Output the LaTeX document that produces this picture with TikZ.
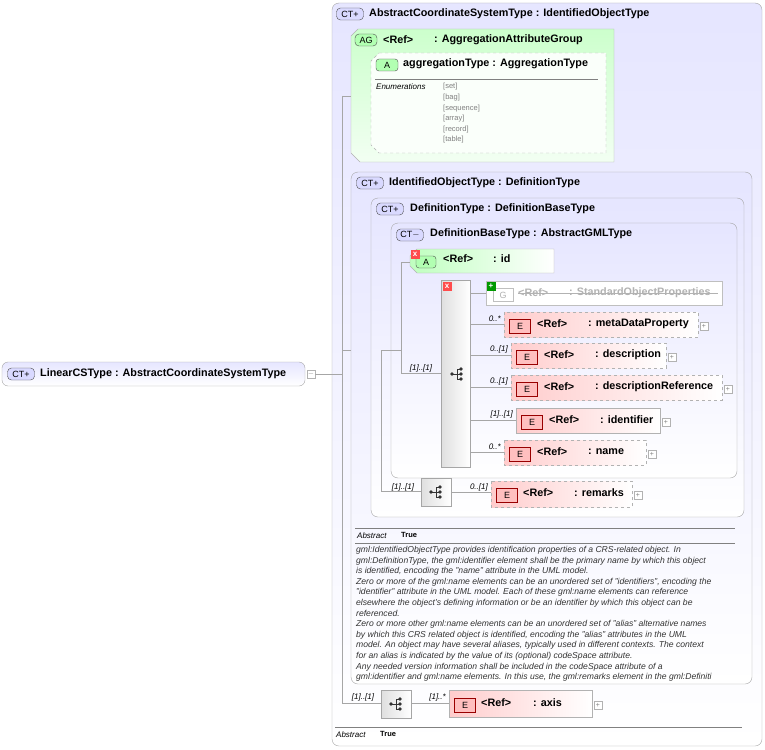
\documentclass[tikz,border=0pt]{standalone}
\usepackage{fontspec}
\setmainfont{Liberation Sans}
\newcommand\seqicon[1]{%
 \begin{scope}[shift={(#1)}]
  \fill[black!80] (-5,0) circle (1.8);
  \draw[black!80] (-5,0) -- (0,0) (0,-5) -- (0,5) (0,-5) -- (4,-5) (0,5) -- (4,5) (0,0) -- (4,0);
  \fill[black!80] (4,-5) circle (1.8) (4,0) circle (1.8) (4,5) circle (1.8);
 \end{scope}}
\begin{document}
\begin{tikzpicture}[x=1pt,y=-1pt,
 ct/.style={draw=gray!70,rounded corners=7pt,top color=blue!10,bottom color=white},
 hdr/.style={anchor=west,font=\bfseries\fontsize{10.8}{12}\selectfont,inner sep=0pt},
 badge/.style={draw=black!70,rounded corners=4pt,fill=blue!15,font=\fontsize{9}{10}\selectfont,inner sep=1pt,minimum height=12pt,minimum width=27pt},
 el/.style={draw=gray!60,left color=red!20,right color=white,inner sep=0pt},
 eld/.style={el,dashed},
 ebadge/.style={draw=red!60!black,fill=red!25,font=\fontsize{9}{10}\selectfont,minimum width=21pt,minimum height=14pt,inner sep=0pt},
 lbl/.style={font=\itshape\fontsize{8}{9}\selectfont,inner sep=0pt},
 ln/.style={draw=gray!70},
 seq/.style={draw=gray!70,left color=gray!25,right color=white,inner sep=0pt},
 pl/.style={draw=gray!60,fill=white,minimum size=8pt,inner sep=0pt,font=\fontsize{7}{7}\selectfont,text=gray},
 xm/.style={fill=red!70,text=white,inner sep=0pt,minimum size=9pt,font=\bfseries\fontsize{8}{8}\selectfont}
]
\useasboundingbox (0,0) rectangle (765,749);
% outer
\draw[ct] (332,3) rectangle (762,746);
\node[badge] (b1) at (350,14) {CT+};
\node[hdr] (h1) at (369,14) {AbstractCoordinateSystemType : IdentifiedObjectType};
% root
\draw[ct,rounded corners=6pt] (2,362) rectangle (305,386);
\node[badge] (b0) at (21,374) {CT+};
\node[hdr] (h0) at (40,374) {LinearCSType : AbstractCoordinateSystemType};
\node[pl] (m0) at (311,374) {$-$};
\draw[ln] (m0.east) -- (342,374);
% main vertical
\draw[ln] (342,96) -- (342,703);
\draw[ln] (342,96) -- (351,96);
\draw[ln] (342,350) -- (381,350);
% AG
\draw[draw=gray!60,top color=green!20,bottom color=green!5] (351,36) -- (358,29) -- (614,29) -- (614,162) -- (360,162) -- (351,153) -- cycle;
\node[badge,fill=green!30,minimum width=22pt] (bag) at (366,40) {AG};
\node[hdr] (hag) at (383,40) {<Ref>};
\node[hdr] (hag2) at (434,40) {: AggregationAttributeGroup};
\draw[draw=gray!60,dashed,fill=white!60!green!5] (379,53) -- (606,53) -- (606,153) -- (379,153) -- (371,145) -- (371,61) -- cycle;
\node[badge,fill=green!30,minimum width=22pt,rounded corners=3pt] (ba) at (387,65) {A};
\node[hdr] (ha) at (403,64) {aggregationType : AggregationType};
\draw[gray] (375,79) -- (598,79);
\node[lbl,anchor=west] (en) at (376,87) {Enumerations};
\foreach \t [count=\i from 0] in {set,bag,sequence,array,record,table}
  \node[font=\fontsize{7.5}{8}\selectfont,text=gray,anchor=west,inner sep=0pt] at (443,87+10.6*\i) {[\t]};
% IdentifiedObjectType
\draw[ct] (351,172) rectangle (752,684);
\node[badge] (b2) at (370,183) {CT+};
\node[hdr] (h2) at (389,183) {IdentifiedObjectType : DefinitionType};
\draw[ct] (371,198) rectangle (744,517);
\node[badge] (b3) at (390,209) {CT+};
\node[hdr] (h3) at (410,209) {DefinitionType : DefinitionBaseType};
\draw[ct] (391,223) rectangle (737,478);
\node[badge] (b4) at (410,235) {CT$-$};
\node[hdr] (h4) at (430,234) {DefinitionBaseType : AbstractGMLType};
% id
\draw[draw=gray!60,left color=green!25,right color=white] (410,256) -- (417,249) -- (554,249) -- (554,273) -- (417,273) -- (410,266) -- cycle;
\node[badge,fill=green!30,minimum width=20pt,rounded corners=3pt] (bid) at (426,262) {A};
\node[hdr] (hid) at (443,259) {<Ref>};
\node[hdr] (hid2) at (493,259) {: id};
\node[xm] at (415,254) {x};
% connectors
\draw[ln] (381,350) -- (381,491) -- (421,491);
\draw[ln] (381,350) -- (401,350);
\draw[ln] (401,262) -- (401,373);
\draw[ln] (401,262) -- (410,262);
\draw[ln] (401,373) -- (441,373);
\node[lbl] at (421,368) {[1]..[1]};
% sequence
\node[seq,minimum width=29pt,minimum height=187pt] (s1) at (455.5,373.5) {};
\seqicon{457,374}
\node[xm] at (447,286) {x};
% G
\draw[ln] (470,293) -- (486,293);
\draw[gray!50,fill=white] (486,281) rectangle (722,305);
\node[draw=gray!50,minimum width=20pt,minimum height=13pt,inner sep=0pt,text=gray!60,font=\fontsize{9}{10}\selectfont] at (503,295) {G};
\node[hdr,text=gray!60] (hg) at (518,293) {<Ref>};
\node[hdr,text=gray!60] (hg2) at (569,293) {: StandardObjectProperties};
\draw[gray!60] (518,293) -- (718,293);
\node[fill=green!60!black,text=white,inner sep=0pt,minimum size=9pt,font=\bfseries\fontsize{8}{8}\selectfont] at (491,286) {+};
% elements
\foreach \x/\y/\w/\n/\l/\s in {
 504/312/698/metaDataProperty/0..*/eld,
 511/343/666/description/0..[1]/eld,
 511/375/722/descriptionReference/0..[1]/eld,
 516/408/660/identifier/[1]..[1]/el,
 504/440/646/name/0..*/eld}{
  \draw[ln] (470,\y+12.5) -- (\x,\y+12.5);
  \node[lbl,anchor=south east] at (\x-3,\y+10) {\l};
  \draw[\s] (\x,\y) rectangle (\w,\y+25);
  \node[ebadge] at (\x+16,\y+14) {E};
  \node[hdr] at (\x+33,\y+12) {<Ref>};
  \node[hdr] at (\x+84,\y+12) {: \n};
  \node[pl] at (\w+6,\y+14) {+};
}
% remarks
\node[seq,minimum width=30pt,minimum height=28pt] (s2) at (436,492) {};
\seqicon{436,492}
\node[lbl] at (403,487) {[1]..[1]};
\draw[ln] (451,492) -- (491,492);
\node[lbl,anchor=south east] at (488,491) {0..[1]};
\draw[eld] (491,481) rectangle (632,507);
\node[ebadge] at (507,495) {E};
\node[hdr] at (523,493) {<Ref>};
\node[hdr] at (574,493) {: remarks};
\node[pl] at (638,495) {+};
% annotation
\draw[gray] (355,528) -- (735,528);
\node[lbl,anchor=west] at (357,536) {Abstract};
\node[hdr,font=\bfseries\fontsize{7.5}{8}\selectfont] at (401,535) {True};
\draw[gray] (355,543) -- (735,543);
\node[anchor=north west,align=left,inner sep=0pt,text=black!80,font=\itshape\fontsize{8.6}{10.6}\selectfont] at (356,546) {gml:IdentifiedObjectType provides identification properties of a CRS-related object. In\\
gml:DefinitionType, the gml:identifier element shall be the primary name by which this object\\
is identified, encoding the "name" attribute in the UML model.\\
Zero or more of the gml:name elements can be an unordered set of "identifiers", encoding the\\
"identifier" attribute in the UML model. Each of these gml:name elements can reference\\
elsewhere the object's defining information or be an identifier by which this object can be\\
referenced.\\
Zero or more other gml:name elements can be an unordered set of "alias" alternative names\\
by which this CRS related object is identified, encoding the "alias" attributes in the UML\\
model. An object may have several aliases, typically used in different contexts. The context\\
for an alias is indicated by the value of its (optional) codeSpace attribute.\\
Any needed version information shall be included in the codeSpace attribute of a\\
gml:identifier and gml:name elements. In this use, the gml:remarks element in the gml:Definiti};
% axis
\draw[ln] (342,703) -- (381,703);
\node[lbl] at (363,697) {[1]..[1]};
\node[seq,minimum width=30pt,minimum height=28pt] (s3) at (396,704) {};
\seqicon{396,704}
\draw[ln] (411,703) -- (449,703);
\node[lbl,anchor=south east] at (446,701) {[1]..*};
\draw[el] (449,690) rectangle (592,717);
\node[ebadge] at (465,705) {E};
\node[hdr] at (481,703) {<Ref>};
\node[hdr] at (533,703) {: axis};
\node[pl] at (598,705) {+};
\draw[gray] (335,727) -- (742,727);
\node[lbl,anchor=west] at (336,735) {Abstract};
\node[hdr,font=\bfseries\fontsize{7.5}{8}\selectfont] at (380,734) {True};
\end{tikzpicture}
\end{document}
